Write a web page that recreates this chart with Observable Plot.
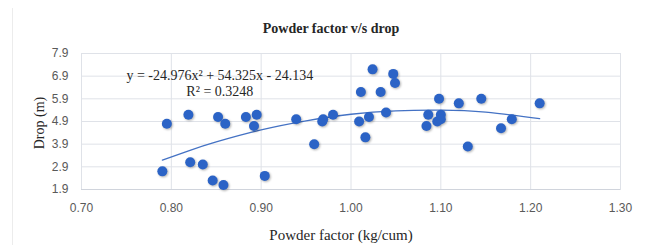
<!DOCTYPE html>
<html>
<head>
<meta charset="utf-8">
<script src="https://cdn.jsdelivr.net/npm/d3@7"></script>
<script src="https://cdn.jsdelivr.net/npm/@observablehq/plot@0.6"></script>
<style>
  html, body { margin: 0; padding: 0; background: #fff; }
  #wrap { position: relative; width: 652px; height: 245px; overflow: hidden; }
  #wrap svg { position: absolute; left: 0; top: 0; }
  .lbl { position: absolute; font-family: "Liberation Serif", "Times New Roman", serif; color: #262626; white-space: nowrap; line-height: 1; }
  #title { left: 331px; top: 22px; transform: translateX(-50%); font-size: 14px; font-weight: bold; }
  #xlabel { left: 341px; top: 228px; transform: translateX(-50%); font-size: 15px; }
  #ylabel { left: 39.5px; top: 123px; transform: translate(-50%, -50%) rotate(-90deg); font-size: 14px; }
  #edge { position: absolute; left: 12px; top: 8px; width: 0; height: 240px; border-left: 1px solid #ececec; }
</style>
</head>
<body>
<div id="wrap">
  <div id="edge"></div>
  <div id="chart"></div>
  <div class="lbl" id="title">Powder factor v/s drop</div>
  <div class="lbl" id="ylabel">Drop (m)</div>
  <div class="lbl" id="xlabel">Powder factor (kg/cum)</div>
</div>
<script>
const powderFactor = [0.790, 0.795, 0.819, 0.821, 0.835, 0.846, 0.852, 0.858, 0.860, 0.883,
                      0.892, 0.895, 0.904, 0.939, 0.959, 0.968, 0.969, 0.980, 1.009, 1.011,
                      1.016, 1.020, 1.024, 1.033, 1.039, 1.047, 1.049, 1.084, 1.086, 1.096,
                      1.098, 1.100, 1.100, 1.120, 1.130, 1.145, 1.167, 1.179, 1.210];
const drop = [2.7, 4.8, 5.2, 3.1, 3.0, 2.3, 5.1, 2.1, 4.8, 5.1,
              4.7, 5.2, 2.5, 5.0, 3.9, 4.9, 5.0, 5.2, 4.9, 6.2,
              4.2, 5.1, 7.2, 6.2, 5.3, 7.0, 6.6, 4.7, 5.2, 4.9,
              5.9, 5.2, 5.0, 5.7, 3.8, 5.9, 4.6, 5.0, 5.7];
// Trendline
const trendX = [0.79, 0.82, 0.85, 0.90, 0.95, 1.00, 1.05, 1.10, 1.15, 1.21];
const trendY = [3.20, 3.62, 4.00, 4.53, 4.93, 5.22, 5.37, 5.40, 5.31, 5.03];
const xTicks = [0.70, 0.80, 0.90, 1.00, 1.10, 1.20, 1.30];
const yTicks = [1.9, 2.9, 3.9, 4.9, 5.9, 6.9, 7.9];
const equationLines = ["y = -24.976x² + 54.325x - 24.134", "R² = 0.3248"];

const points = powderFactor.map((x, i) => ({x, y: drop[i]}));
const trend = trendX.map((x, i) => ({x, y: trendY[i]}));

const gridColor = "#dfe2e8";
const tickFont = "Liberation Sans, Arial, sans-serif";

const chart = Plot.plot({
  width: 652,
  height: 245,
  marginLeft: 81,
  marginRight: 32,
  marginTop: 53,
  marginBottom: 56,
  style: {background: "transparent", overflow: "visible"},
  x: {domain: [0.7, 1.3]},
  y: {domain: [1.9, 7.9]},
  marks: [
    Plot.gridX(xTicks, {stroke: gridColor, strokeOpacity: 1, strokeWidth: 1}),
    Plot.gridY(yTicks, {stroke: gridColor, strokeOpacity: 1, strokeWidth: 1}),
    Plot.frame({stroke: gridColor, strokeWidth: 1}),
    Plot.ruleY([1.9], {stroke: "#d0d4dc", strokeWidth: 1.2}),
    Plot.axisX(xTicks, {tickSize: 0, tickPadding: 14, tickFormat: d => d.toFixed(2),
      fontSize: 12, fill: "#595959", fontFamily: tickFont, label: null}),
    Plot.axisY(yTicks, {tickSize: 0, tickPadding: 13, tickFormat: d => d.toFixed(1),
      fontSize: 12, fill: "#595959", fontFamily: tickFont, label: null}),
    Plot.line(trend, {x: "x", y: "y", curve: "natural", stroke: "#4472C4", strokeWidth: 1.3}),
    Plot.dot(points, {x: "x", y: "y", r: 5, fill: "#2B63C6", stroke: "none"}),
    Plot.text([equationLines[0]], {x: 0.854, y: 6.94, text: d => d, fontSize: 14,
      fontFamily: "Liberation Serif, Times New Roman, serif", fill: "#262626"}),
    Plot.text([equationLines[1]], {x: 0.854, y: 6.23, text: d => d, fontSize: 14,
      fontFamily: "Liberation Serif, Times New Roman, serif", fill: "#262626"})
  ]
});
document.getElementById("chart").appendChild(chart);
chart.querySelectorAll('g[aria-label="dot"]').forEach(g => {
  g.style.filter = "drop-shadow(1px 1.5px 1px rgba(0,0,0,0.3))";
});
</script>
</body>
</html>
